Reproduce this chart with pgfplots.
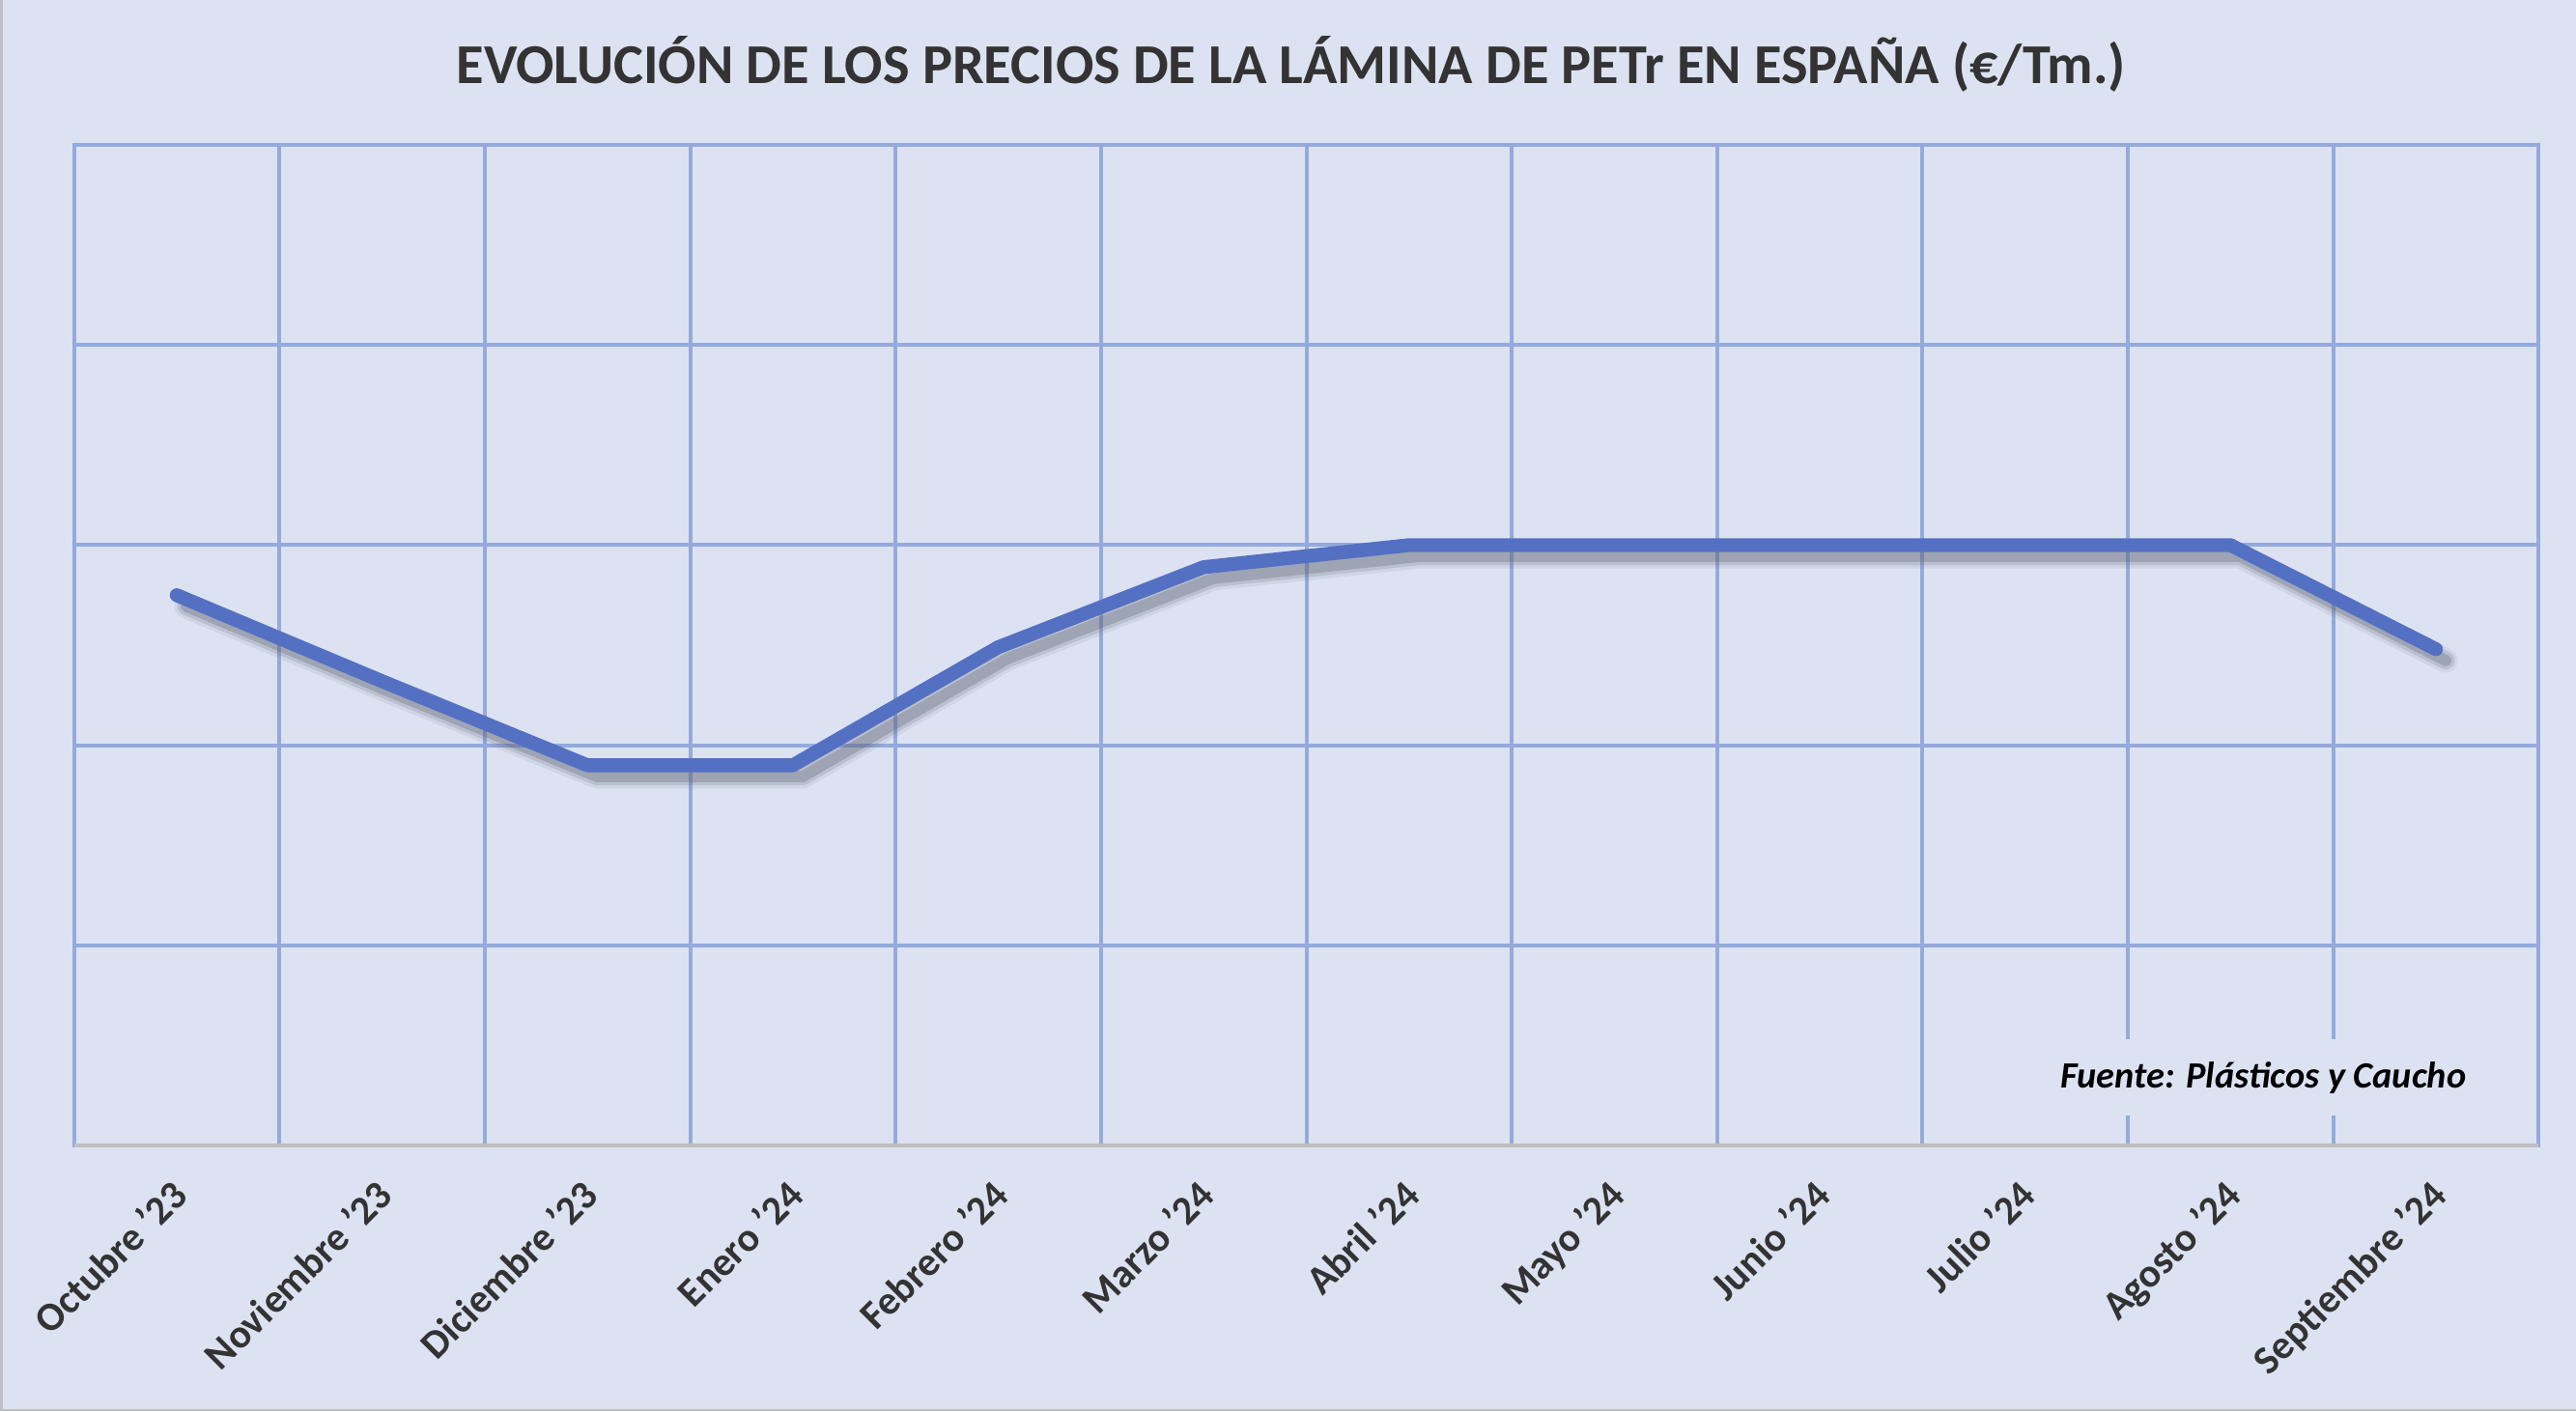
\documentclass[border=0pt]{standalone}
\usepackage{fontspec}
\setmainfont{Carlito}
\usepackage{pgfplots}
\usepackage{pgfplotstable}
\pgfplotsset{compat=1.18}
\definecolor{bg}{HTML}{DCE2F1}
\definecolor{gridc}{HTML}{95AADC}
\definecolor{linec}{HTML}{5470C3}
\definecolor{axisg}{HTML}{BFBFBF}
\definecolor{txt}{HTML}{333333}
\definecolor{shad}{HTML}{5E6474}
\pgfplotstableread{
x y
0 2.75
1 2.32
2 1.90
3 1.90
4 2.49
5 2.89
6 3.00
7 3.00
8 3.00
9 3.00
10 3.00
11 2.48
}\datatable
\begin{document}
\begin{tikzpicture}
\fill[bg] (0,0) rectangle (800pt,438.3pt);
\draw[axisg, line width=0.8pt] (0.4pt,438.3pt) -- (0.4pt,0.4pt) -- (800pt,0.4pt);
\begin{axis}[
 at={(23pt,82.5pt)}, anchor=south west,
 scale only axis, width=765.4pt, height=310.8pt,
 xmin=-0.5, xmax=11.5, ymin=0, ymax=5,
 xtick={0,...,11},
 xticklabels={Octubre '23, Noviembre '23, Diciembre '23, Enero '24, Febrero '24, Marzo '24, Abril '24, Mayo '24, Junio '24, Julio '24, Agosto '24, Septiembre '24},
 minor xtick={-0.5,0.5,...,11.5},
 ytick={0,...,5}, yticklabels={},
 xminorgrids, ymajorgrids, xmajorgrids=false,
 minor grid style={gridc, line width=1.2pt},
 major grid style={gridc, line width=1.2pt},
 axis line style={gridc, line width=1.2pt},
 major tick length=0pt, minor tick length=0pt,
 tick style={draw=none},
 xticklabel style={font=\bfseries\fontsize{12.5}{14}\selectfont, text=txt, xshift=-2.5pt, yshift=-9.5pt, rotate=45, anchor=north east, inner sep=0pt},
 clip=false,
]
\addplot[shad, opacity=0.10, line width=7.5pt, line join=round, line cap=round, xshift=3pt, yshift=-3.5pt] table[x=x,y=y] {\datatable};
\addplot[shad, opacity=0.18, line width=5.5pt, line join=round, line cap=round, xshift=3pt, yshift=-3.5pt] table[x=x,y=y] {\datatable};
\addplot[shad, opacity=0.30, line width=3.5pt, line join=round, line cap=round, xshift=3pt, yshift=-3.5pt] table[x=x,y=y] {\datatable};
\addplot[linec, line width=4.3pt, line join=round, line cap=round] table[x=x,y=y] {\datatable};
\draw[axisg, line width=1.4pt] (rel axis cs:0,0) -- (rel axis cs:1,0);
\node[fill=bg, inner xsep=3pt, inner ysep=7pt, font=\bfseries\itshape\fontsize{11.5}{13}\selectfont] at (axis cs:10.16,0.34) {Fuente: Plásticos y Caucho};
\end{axis}
\node[font=\bfseries\fontsize{17.5}{20}\selectfont, text=txt] at (401pt,418.3pt) {EVOLUCIÓN DE LOS PRECIOS DE LA LÁMINA DE PETr EN ESPAÑA (€/Tm.)};
\pgfresetboundingbox
\useasboundingbox (0,0) rectangle (800pt,438.3pt);
\end{tikzpicture}
\end{document}
